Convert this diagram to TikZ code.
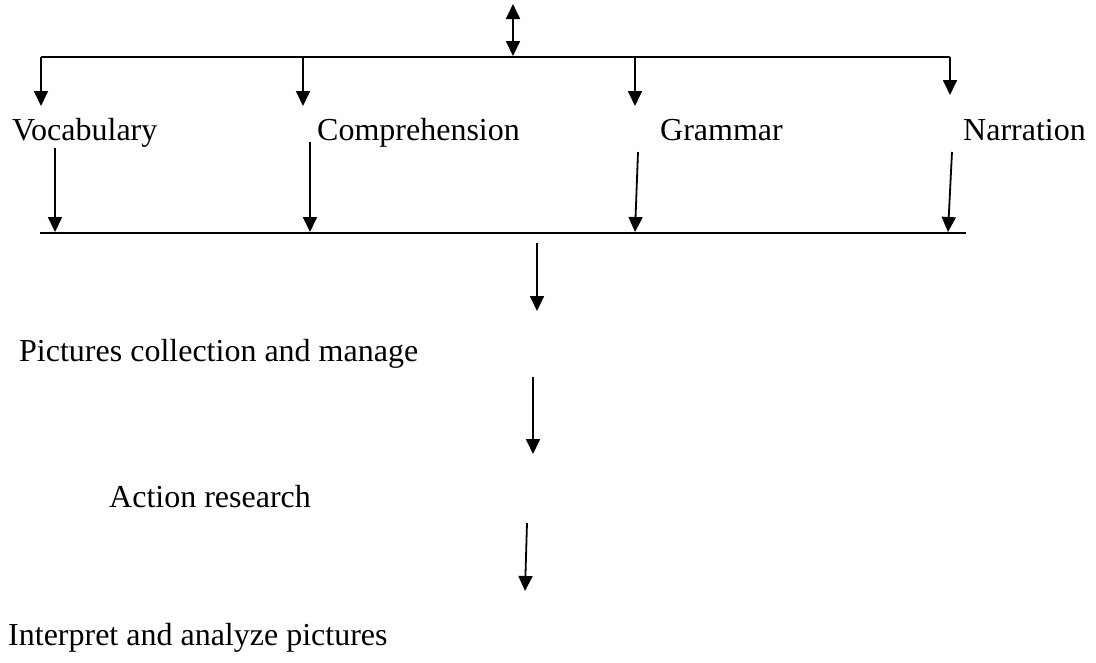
\documentclass[tikz,border=0pt]{standalone}
\usepackage{fontspec}
\setmainfont{Liberation Serif}
\usetikzlibrary{arrows.meta}
\tikzset{
  conn/.style={line width=1.8pt},
  arr/.style={conn,-{Triangle[width=14pt,length=15pt]}},
  darr/.style={conn,{Triangle[width=14pt,length=15pt]}-{Triangle[width=14pt,length=15pt]}},
  lbl/.style={inner sep=0pt,anchor=base west,font=\fontsize{32}{38}\selectfont}
}
\begin{document}
\begin{tikzpicture}[x=1pt,y=-1pt]
\useasboundingbox (0,0) rectangle (1096,662);
% labels
\node[lbl] (voc) at (12,140) {Vocabulary};
\node[lbl] (com) at (317,140) {Comprehension};
\node[lbl] (gra) at (660,140) {Grammar};
\node[lbl] (nar) at (963,140) {Narration};
\node[lbl] (pic) at (19,361) {Pictures collection and manage};
\node[lbl] (act) at (109,507) {Action research};
\node[lbl] (int) at (8,645) {Interpret and analyze pictures};
% top bus
\coordinate (t0) at (513,4);
\coordinate (t1) at (513,56);
\coordinate (tl) at (41,57);
\coordinate (tr) at (950,57);
\draw[darr] (t0) -- (t1);
\draw[conn] (tl) -- (tr);
\coordinate (a1) at (303,57);
\coordinate (a2) at (635,57);
\coordinate (b0) at (41,106);
\coordinate (b1) at (303,106);
\coordinate (b2) at (635,106);
\coordinate (b3) at (950,95);
\draw[arr] (tl) -- (b0);
\draw[arr] (a1) -- (b1);
\draw[arr] (a2) -- (b2);
\draw[arr] (tr) -- (b3);
% bottom bus
\coordinate (bl) at (40,233);
\coordinate (br) at (966,233);
\draw[conn] (bl) -- (br);
\coordinate (c0) at (55,148);
\coordinate (c1) at (310,142);
\coordinate (c2) at (638,152);
\coordinate (c3) at (952,152);
\coordinate (g0) at (55,232);
\coordinate (g1) at (310,232);
\coordinate (g2) at (635,232);
\coordinate (g3) at (948,232);
\draw[arr] (c0) -- (g0);
\draw[arr] (c1) -- (g1);
\draw[arr] (c2) -- (g2);
\draw[arr] (c3) -- (g3);
% vertical chain
\coordinate (d0) at (537,243);
\coordinate (d1) at (537,311);
\coordinate (e0) at (533,377);
\coordinate (e1) at (533,454);
\coordinate (f0) at (527,523);
\coordinate (f1) at (525,591);
\draw[arr] (d0) -- (d1);
\draw[arr] (e0) -- (e1);
\draw[arr] (f0) -- (f1);
\end{tikzpicture}
\end{document}
